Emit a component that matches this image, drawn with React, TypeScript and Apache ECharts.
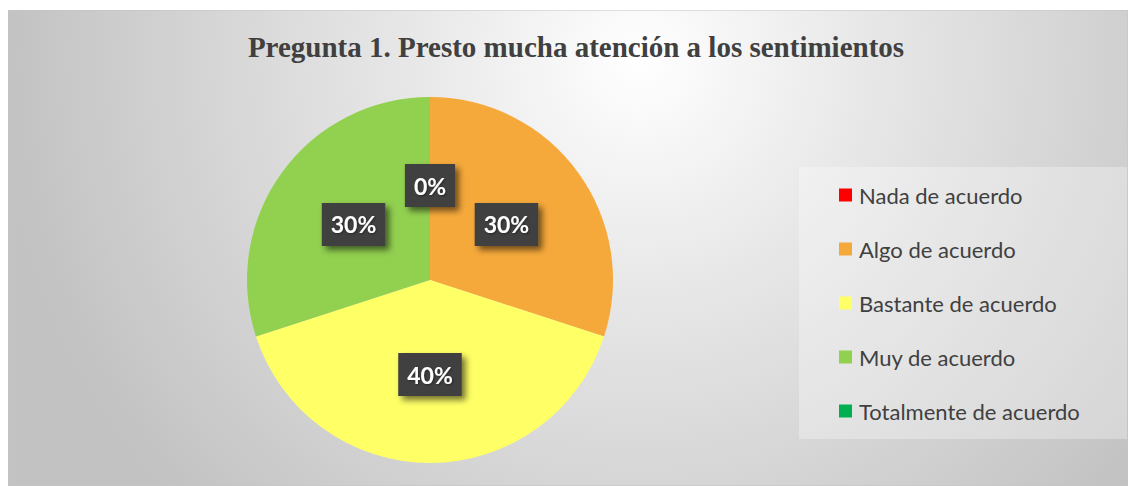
import React, { useEffect, useRef } from "react";
import * as echarts from "echarts";

const TITLE = "Pregunta 1. Presto mucha atención a los sentimientos";
const categories = [
  "Nada de acuerdo",
  "Algo de acuerdo",
  "Bastante de acuerdo",
  "Muy de acuerdo",
  "Totalmente de acuerdo",
];
const values = [0, 3, 4, 3, 0];
const colors = ["#FF0000", "#F6A93B", "#FFFF66", "#92D050", "#00B050"];

const W = 1120;
const H = 476;

export default function App() {
  const ref = useRef<HTMLDivElement>(null);
  useEffect(() => {
    if (!ref.current) return;
    const chart = echarts.init(ref.current, undefined, { renderer: "svg" });
    const total = values.reduce((a, b) => a + b, 0);
    const option: any = {
      animation: false,
      title: {
        text: TITLE,
        left: 568,
        textAlign: "center",
        top: 22,
        padding: 0,
        textStyle: {
          fontFamily: "'Liberation Serif', 'Times New Roman', serif",
          fontWeight: "bold",
          fontSize: 29,
          color: "#404040",
        },
      },
      graphic: [
        {
          type: "rect",
          z: 0,
          silent: true,
          shape: { x: 0, y: 0, width: W, height: H },
          style: {
            fill: {
              type: "radial",
              x: 632,
              y: 50,
              r: 640,
              global: true,
              colorStops: [
                { offset: 0, color: "#ffffff" },
                { offset: 0.35, color: "#e8e8e8" },
                { offset: 1, color: "#c2c2c2" },
              ],
            },
            stroke: "#c4c4c4",
            lineWidth: 1,
          },
        },
        {
          type: "rect",
          z: 1,
          silent: true,
          shape: { x: 791, y: 157, width: 328, height: 272 },
          style: { fill: "rgba(255,255,255,0.3)" },
        },
      ],
      legend: {
        orient: "vertical",
        left: 826,
        top: 169,
        itemWidth: 13,
        itemHeight: 13,
        itemGap: 32,
        icon: "rect",
        data: categories,
        textStyle: {
          fontFamily: "Lato, 'Noto Sans', sans-serif",
          fontSize: 22,
          lineHeight: 22,
          color: "#404040",
          padding: [0, 0, 0, 2],
        },
      },
      series: [
        {
          type: "pie",
          center: [422, 270],
          radius: 183,
          startAngle: 90,
          clockwise: true,
          silent: true,
          color: colors,
          itemStyle: { borderWidth: 0 },
          label: {
            show: true,
            position: "inside",
            formatter: (p: any) => `${Math.round((p.value / total) * 100)}%`,
            fontFamily: "Lato, 'Noto Sans', sans-serif",
            fontWeight: "bold",
            fontSize: 23,
            lineHeight: 24,
            color: "#ffffff",
            backgroundColor: "#404040",
            padding: [10, 9, 9, 9],
            shadowColor: "rgba(0,0,0,0.55)",
            shadowBlur: 6,
            shadowOffsetX: 4,
            shadowOffsetY: 4,
            textShadowColor: "rgba(0,0,0,0.4)",
            textShadowBlur: 2,
            textShadowOffsetX: 1,
            textShadowOffsetY: 1,
          },
          labelLine: { show: false },
          data: categories.map((name, i) => ({
            name,
            value: values[i],
            label: i === categories.length - 1 ? { show: false } : undefined,
          })),
        },
      ],
    };
    chart.setOption(option);
    return () => chart.dispose();
  }, []);
  return (
    <div
      ref={ref}
      style={{ position: "absolute", left: 8, top: 10, width: W, height: H }}
    />
  );
}
